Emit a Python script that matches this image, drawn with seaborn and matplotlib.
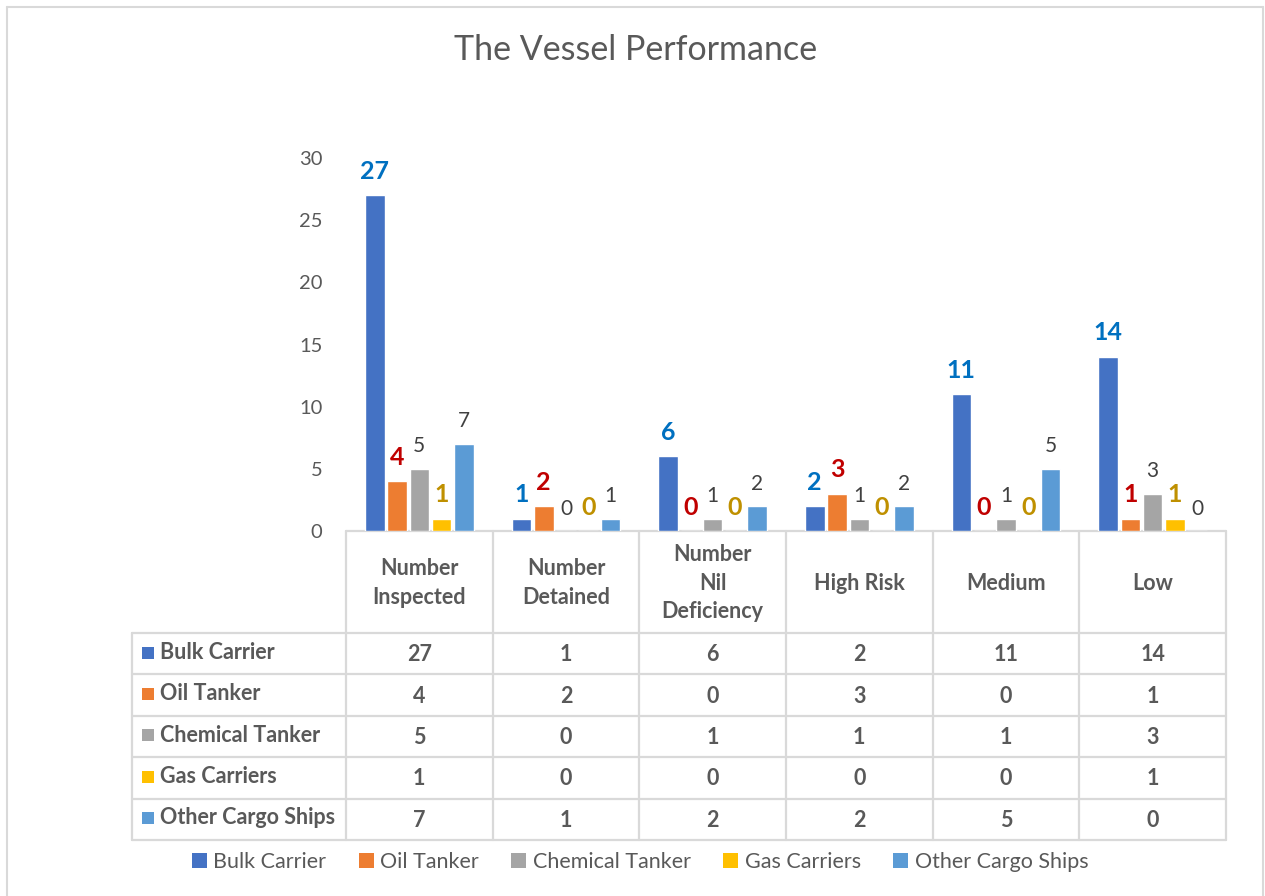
import numpy as np
import pandas as pd
import matplotlib
matplotlib.use("Agg")
import matplotlib.pyplot as plt
import seaborn as sns
from matplotlib.patches import Patch, Rectangle
from matplotlib.lines import Line2D

# ---------------- data ----------------
categories = ["Number\nInspected", "Number\nDetained", "Number\nNil\nDeficiency",
              "High Risk", "Medium", "Low"]
series = ["Bulk Carrier", "Oil Tanker", "Chemical Tanker", "Gas Carriers", "Other Cargo Ships"]
bulk_carrier = [27, 1, 6, 2, 11, 14]
oil_tanker = [4, 2, 0, 3, 0, 1]
chemical_tanker = [5, 0, 1, 1, 1, 3]
gas_carriers = [1, 0, 0, 0, 0, 1]
other_cargo = [7, 1, 2, 2, 5, 0]
yticks = [0, 5, 10, 15, 20, 25, 30]

colors = ["#4472C4", "#ED7D31", "#A5A5A5", "#FFC000", "#5B9BD5"]
label_colors = ["#0070C0", "#C00000", "#404040", "#BF9000", "#404040"]
label_weights = ["bold", "bold", "normal", "bold", "normal"]
TEXT = "#595959"
GRID = "#D9D9D9"

values = [bulk_carrier, oil_tanker, chemical_tanker, gas_carriers, other_cargo]
df = pd.DataFrame({
    "category": [c for _ in series for c in categories],
    "series": [s for s in series for _ in categories],
    "value": [v for vals in values for v in vals],
})

sns.set_theme(style="white")
plt.rcParams["font.family"] = ["Lato", "DejaVu Sans"]

W, H = 1265, 896
fig = plt.figure(figsize=(W / 100, H / 100), dpi=100)
fig.patch.set_facecolor("white")


def fx(px):
    return px / W


def fy(py):
    return 1 - py / H


AX_L, AX_R, AX_T, AX_B = 346, 1226, 158, 531
ax = fig.add_axes([fx(AX_L), fy(AX_B), fx(AX_R) - fx(AX_L), fy(AX_T) - fy(AX_B)])
sns.barplot(data=df, x="category", y="value", hue="series", order=categories,
            hue_order=series, palette=colors, saturation=1, width=0.76, gap=0.12,
            ax=ax, legend=False)
ax.set_xlim(-0.5, len(categories) - 0.5)
ax.set_ylim(0, 30)
ax.set_yticks(yticks)
ax.set_yticklabels([str(t) for t in yticks], color=TEXT, fontsize=14.5)
ax.tick_params(axis="y", length=0, pad=17)
ax.set_xticks([])
ax.set_xlabel("")
ax.set_ylabel("")
for sp in ax.spines.values():
    sp.set_visible(False)
ax.patch.set_alpha(0)

for i, cont in enumerate(ax.containers):
    bold = label_weights[i] == "bold"
    ax.bar_label(cont, labels=[str(v) for v in values[i]], color=label_colors[i],
                 fontweight=label_weights[i], fontsize=18 if bold else 15,
                 padding=9, clip_on=False)

# ---------------- title ----------------
fig.text(fx(636), fy(50), "The Vessel Performance", ha="center", va="center",
         fontsize=24.5, color=TEXT)

# ---------------- data table ----------------
tab = fig.add_axes([0, 0, 1, 1], zorder=-1)
tab.set_xlim(0, W)
tab.set_ylim(H, 0)
tab.axis("off")
tab.patch.set_alpha(0)

ncat = len(categories)
col_w = (AX_R - AX_L) / ncat
col_edges = [AX_L + i * col_w for i in range(ncat + 1)]
TAB_L = 132
HEAD_B = 633
ROW_H = 41.4
row_edges = [HEAD_B + i * ROW_H for i in range(len(series) + 1)]
lw = 1.6

tab.plot([AX_L, AX_R], [AX_B, AX_B], color=GRID, lw=lw)
for y in row_edges:
    tab.plot([TAB_L, AX_R], [y, y], color=GRID, lw=lw)
for x in col_edges:
    tab.plot([x, x], [AX_B, row_edges[-1]], color=GRID, lw=lw)
tab.plot([TAB_L, TAB_L], [HEAD_B, row_edges[-1]], color=GRID, lw=lw)

for j, cat in enumerate(categories):
    cx = (col_edges[j] + col_edges[j + 1]) / 2
    tab.text(cx, (AX_B + HEAD_B) / 2 + 1, cat, ha="center", va="center", fontsize=15.5,
             fontweight="bold", color=TEXT, linespacing=1.47)

for i, s in enumerate(series):
    cy = (row_edges[i] + row_edges[i + 1]) / 2
    tab.add_patch(Rectangle((142, cy - 7), 12, 12, facecolor=colors[i], edgecolor="none"))
    tab.text(160, cy - 1.5, s, ha="left", va="center", fontsize=15.5, fontweight="bold",
             color=TEXT)
    for j in range(ncat):
        cx = (col_edges[j] + col_edges[j + 1]) / 2
        tab.text(cx, cy + 1, str(values[i][j]), ha="center", va="center", fontsize=15.5,
                 fontweight="bold", color=TEXT)

# ---------------- legend ----------------
handles = [Patch(facecolor=c, edgecolor="none") for c in colors]
fig.legend(handles, series, loc="center", bbox_to_anchor=(fx(640), fy(862)), ncol=5,
           frameon=False, fontsize=15.5, handlelength=0.7, handleheight=0.7,
           handletextpad=0.3, columnspacing=1.5, labelcolor=TEXT)

# ---------------- outer border ----------------
fig.add_artist(Line2D([fx(7), fx(7)], [fy(7), 0], color=GRID, lw=1.5, transform=fig.transFigure))
fig.add_artist(Line2D([fx(7), fx(1263)], [fy(7), fy(7)], color=GRID, lw=1.5, transform=fig.transFigure))
fig.add_artist(Line2D([fx(1263), fx(1263)], [fy(7), 0], color=GRID, lw=1.5, transform=fig.transFigure))

fig.savefig("out.png", dpi=100, facecolor="white")
